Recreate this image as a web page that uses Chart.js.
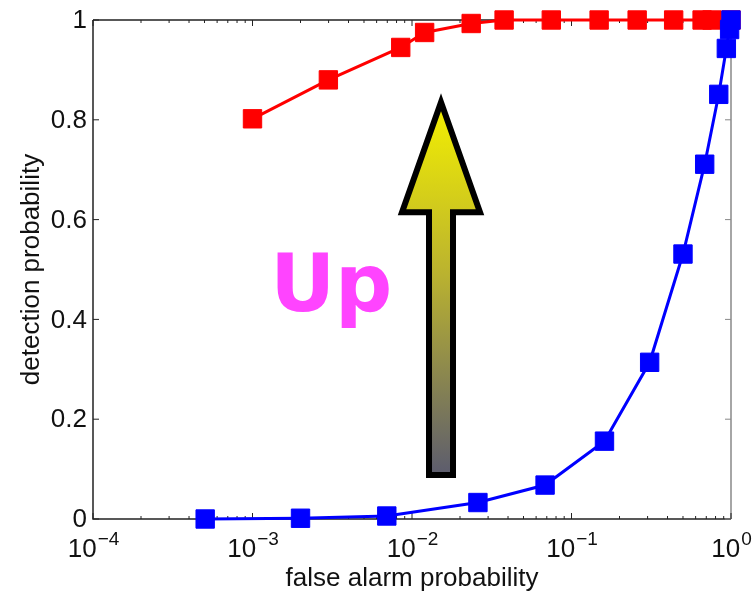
<!DOCTYPE html>
<html lang="en">
<head>
    <meta charset="UTF-8">
    <title>ROC curves</title>
    <script src="https://cdn.jsdelivr.net/npm/chart.js"></script>
    <style>
        body { margin: 0; background: #fff; }
    </style>
</head>
<body>
    <canvas id="rocChart" width="752" height="593"></canvas>

    <script>
        // tick values
        var xTicks = [1e-4, 1e-3, 1e-2, 1e-1, 1];
        var xExponents = ['\u22124', '\u22123', '\u22122', '\u22121', '0'];
        var yTicks = [0, 0.2, 0.4, 0.6, 0.8, 1];
        var yTickLabels = ['0', '0.2', '0.4', '0.6', '0.8', '1'];

        // red curve
        var redX = [0.001, 0.00299, 0.0085, 0.0120, 0.0235, 0.0378, 0.0747, 0.149, 0.258, 0.437, 0.659, 0.760, 1.0];
        var redY = [0.802, 0.880, 0.945, 0.975, 0.993, 1.0, 1.0, 1.0, 1.0, 1.0, 1.0, 1.0, 1.0];

        // blue curve
        var blueX = [0.000505, 0.0020, 0.00695, 0.0259, 0.0683, 0.161, 0.309, 0.500, 0.684, 0.838, 0.935, 0.98, 1.0];
        var blueY = [0.0, 0.0015, 0.006, 0.033, 0.068, 0.156, 0.314, 0.531, 0.711, 0.851, 0.943, 0.981, 1.0];

        var xTitle = 'false alarm probability';
        var yTitle = 'detection probability';
        var noteText = 'Up';

        // arrow and note placement in data units
        var arrowX = 0.0152, arrowTop = 0.835, arrowBottom = 0.088;
        var noteX = 0.00129, noteY = 0.417;

        function toPoints(xs, ys) {
            return xs.map((x, i) => ({ x: x, y: ys[i] }));
        }

        var font = '"Liberation Sans", Arial, Helvetica, sans-serif';

        var decorations = {
            id: 'decorations',
            beforeDatasetsDraw: function(chart) {
                var ctx = chart.ctx;
                var a = chart.chartArea;
                var xs = chart.scales.x, ys = chart.scales.y;

                // arrow
                var cx = xs.getPixelForValue(arrowX);
                var top = ys.getPixelForValue(arrowTop);
                var bot = ys.getPixelForValue(arrowBottom);
                var headW = 39, shaftW = 12, headL = 110;
                var grad = ctx.createLinearGradient(0, top, 0, bot);
                grad.addColorStop(0, '#f4f000');
                grad.addColorStop(0.45, '#bcb42e');
                grad.addColorStop(1, '#5c5c6e');
                ctx.save();
                ctx.beginPath();
                ctx.moveTo(cx, top);
                ctx.lineTo(cx + headW, top + headL);
                ctx.lineTo(cx + shaftW, top + headL);
                ctx.lineTo(cx + shaftW, bot);
                ctx.lineTo(cx - shaftW, bot);
                ctx.lineTo(cx - shaftW, top + headL);
                ctx.lineTo(cx - headW, top + headL);
                ctx.closePath();
                ctx.fillStyle = grad;
                ctx.fill();
                ctx.lineWidth = 6;
                ctx.lineJoin = 'miter';
                ctx.strokeStyle = '#000';
                ctx.stroke();

                // note text
                ctx.fillStyle = '#ff44ff';
                ctx.font = 'bold 80px "DejaVu Sans", sans-serif';
                ctx.textAlign = 'left';
                ctx.textBaseline = 'alphabetic';
                ctx.fillText(noteText, xs.getPixelForValue(noteX), ys.getPixelForValue(noteY));

                // box
                ctx.lineWidth = 1.5;
                ctx.strokeStyle = '#222';
                ctx.beginPath();
                ctx.moveTo(a.left, a.top);
                ctx.lineTo(a.right, a.top);
                ctx.moveTo(a.left, a.top);
                ctx.lineTo(a.left, a.bottom);
                ctx.lineTo(a.right, a.bottom);
                ctx.stroke();
                ctx.strokeStyle = '#888';
                ctx.beginPath();
                ctx.moveTo(a.right, a.top);
                ctx.lineTo(a.right, a.bottom);
                ctx.stroke();

                // y ticks (inward, both sides)
                ctx.lineWidth = 1;
                yTicks.forEach(function(v) {
                    var py = ys.getPixelForValue(v);
                    ctx.strokeStyle = '#222';
                    ctx.beginPath();
                    ctx.moveTo(a.left, py);
                    ctx.lineTo(a.left + 6, py);
                    ctx.stroke();
                    ctx.strokeStyle = '#888';
                    ctx.beginPath();
                    ctx.moveTo(a.right, py);
                    ctx.lineTo(a.right - 6, py);
                    ctx.stroke();
                });

                // x ticks, major and minor (inward, top and bottom)
                ctx.strokeStyle = '#222';
                for (var d = 0; d < xTicks.length; d++) {
                    var base = xTicks[d];
                    for (var m = 1; m <= 9; m++) {
                        var v = base * m;
                        if (v > xTicks[xTicks.length - 1]) break;
                        var px = xs.getPixelForValue(v);
                        var len = m === 1 ? 6 : 3;
                        ctx.beginPath();
                        ctx.moveTo(px, a.bottom);
                        ctx.lineTo(px, a.bottom - len);
                        ctx.moveTo(px, a.top);
                        ctx.lineTo(px, a.top + len);
                        ctx.stroke();
                    }
                }
                ctx.restore();
            },
            afterDraw: function(chart) {
                var ctx = chart.ctx;
                var a = chart.chartArea;
                var xs = chart.scales.x, ys = chart.scales.y;
                ctx.save();
                ctx.fillStyle = '#111';

                // y tick labels
                ctx.font = '26px ' + font;
                ctx.textAlign = 'right';
                ctx.textBaseline = 'middle';
                yTicks.forEach(function(v, i) {
                    ctx.fillText(yTickLabels[i], a.left - 6, ys.getPixelForValue(v) + 1);
                });

                // x tick labels as 10^n
                ctx.textAlign = 'left';
                ctx.textBaseline = 'alphabetic';
                xTicks.forEach(function(v, i) {
                    ctx.font = '26px ' + font;
                    var wBase = ctx.measureText('10').width;
                    ctx.font = '19px ' + font;
                    var wExp = ctx.measureText(xExponents[i]).width;
                    var x0 = xs.getPixelForValue(v) - (wBase + wExp) / 2;
                    ctx.font = '26px ' + font;
                    ctx.fillText('10', x0, a.bottom + 38);
                    ctx.font = '19px ' + font;
                    ctx.fillText(xExponents[i], x0 + wBase + 1, a.bottom + 26);
                });

                // axis titles
                ctx.font = '26px ' + font;
                ctx.textAlign = 'center';
                ctx.fillText(xTitle, (a.left + a.right) / 2, a.bottom + 67);
                ctx.translate(39, (a.top + a.bottom) / 2);
                ctx.rotate(-Math.PI / 2);
                ctx.fillText(yTitle, 0, 0);
                ctx.restore();
            }
        };

        var ctx = document.getElementById('rocChart').getContext('2d');
        var rocChart = new Chart(ctx, {
            type: 'line',
            data: {
                datasets: [{
                    label: 'red',
                    data: toPoints(redX, redY),
                    borderColor: '#ff0000',
                    backgroundColor: '#ff0000',
                    borderWidth: 3,
                    pointStyle: 'rect',
                    pointRadius: 13,
                    pointBorderWidth: 1,
                    tension: 0,
                    fill: false,
                    clip: false,
                    order: 2
                }, {
                    label: 'blue',
                    data: toPoints(blueX, blueY),
                    borderColor: '#0000ff',
                    backgroundColor: '#0000ff',
                    borderWidth: 3,
                    pointStyle: 'rect',
                    pointRadius: 13,
                    pointBorderWidth: 1,
                    tension: 0,
                    fill: false,
                    clip: false,
                    order: 1
                }]
            },
            options: {
                responsive: false,
                animation: false,
                layout: { padding: { left: 93, right: 21, top: 20, bottom: 74 } },
                plugins: {
                    legend: { display: false },
                    tooltip: { enabled: false }
                },
                scales: {
                    x: { type: 'logarithmic', min: 1e-4, max: 1, display: false },
                    y: { type: 'linear', min: 0, max: 1, display: false }
                }
            },
            plugins: [decorations]
        });
    </script>
</body>
</html>
